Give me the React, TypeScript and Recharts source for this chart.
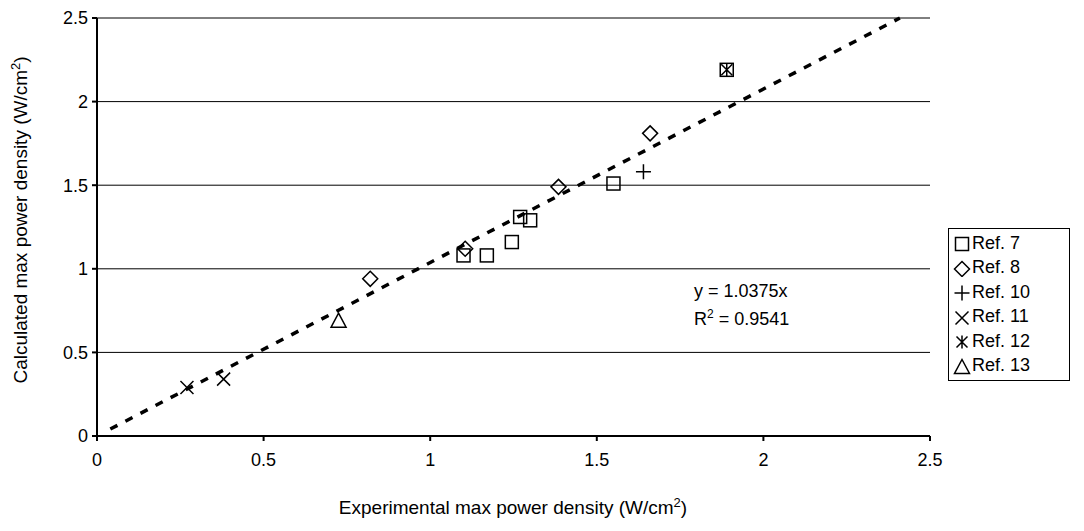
import React from "react";
import {
  ScatterChart,
  Scatter,
  XAxis,
  YAxis,
  CartesianGrid,
  ReferenceLine,
  Label,
} from "recharts";

// values
const ref7X = [1.1, 1.17, 1.245, 1.27, 1.3, 1.55, 1.89];
const ref7Y = [1.08, 1.08, 1.16, 1.31, 1.29, 1.51, 2.19];
const ref8X = [0.82, 1.105, 1.385, 1.66];
const ref8Y = [0.94, 1.12, 1.49, 1.81];
const ref10X = [1.64];
const ref10Y = [1.58];
const ref11X = [0.27, 0.38];
const ref11Y = [0.29, 0.34];
const ref12X = [1.89];
const ref12Y = [2.19];
const ref13X = [0.725];
const ref13Y = [0.69];

const axisTicks = [0, 0.5, 1, 1.5, 2, 2.5];
const slope = 1.0375;
const rSquared = 0.9541;
const trendStartX = 0.04;
const trendEndY = 2.5;

const FONT = "'Liberation Sans', Arial, sans-serif";

const toPoints = (xs: number[], ys: number[]) =>
  xs.map((x, i) => ({ x, y: ys[i] }));

type ShapeKind = "square" | "diamond" | "plus" | "cross" | "star" | "triangle";

function Marker({ kind, cx, cy }: { kind: ShapeKind; cx: number; cy: number }) {
  const s = 6.5;
  const common = { fill: "none", stroke: "#000", strokeWidth: 1.5 };
  switch (kind) {
    case "square":
      return <rect x={cx - s} y={cy - s} width={2 * s} height={2 * s} {...common} />;
    case "diamond":
      return (
        <polygon
          points={`${cx},${cy - s - 1} ${cx + s + 1},${cy} ${cx},${cy + s + 1} ${cx - s - 1},${cy}`}
          {...common}
        />
      );
    case "plus":
      return (
        <path d={`M${cx - s - 1},${cy}H${cx + s + 1}M${cx},${cy - s - 1}V${cy + s + 1}`} {...common} />
      );
    case "cross":
      return (
        <path
          d={`M${cx - s},${cy - s}L${cx + s},${cy + s}M${cx + s},${cy - s}L${cx - s},${cy + s}`}
          {...common}
        />
      );
    case "star":
      return (
        <path
          d={`M${cx - s + 1},${cy - s + 1}L${cx + s - 1},${cy + s - 1}M${cx + s - 1},${cy - s + 1}L${cx - s + 1},${cy + s - 1}M${cx},${cy - s}V${cy + s}`}
          {...common}
        />
      );
    case "triangle":
    default:
      return (
        <polygon
          points={`${cx},${cy - s - 1} ${cx + s + 1},${cy + s} ${cx - s - 1},${cy + s}`}
          {...common}
        />
      );
  }
}

const series: { name: string; kind: ShapeKind; data: { x: number; y: number }[] }[] = [
  { name: "Ref. 7", kind: "square", data: toPoints(ref7X, ref7Y) },
  { name: "Ref. 8", kind: "diamond", data: toPoints(ref8X, ref8Y) },
  { name: "Ref. 10", kind: "plus", data: toPoints(ref10X, ref10Y) },
  { name: "Ref. 11", kind: "cross", data: toPoints(ref11X, ref11Y) },
  { name: "Ref. 12", kind: "star", data: toPoints(ref12X, ref12Y) },
  { name: "Ref. 13", kind: "triangle", data: toPoints(ref13X, ref13Y) },
];

function LegendBox() {
  return (
    <div
      style={{
        position: "absolute",
        left: 948,
        top: 228,
        width: 122,
        border: "1px solid #000",
        background: "#fff",
        padding: "2px 4px",
        fontFamily: FONT,
        fontSize: 18,
        color: "#000",
        boxSizing: "border-box",
      }}
    >
      {series.map((s) => (
        <div key={s.name} style={{ display: "flex", alignItems: "center", height: 24.5 }}>
          <svg width={18} height={18} style={{ marginRight: 1 }}>
            <Marker kind={s.kind} cx={9} cy={10} />
          </svg>
          <span>{s.name}</span>
        </div>
      ))}
    </div>
  );
}

export default function App() {
  const tick = { fill: "#000", fontSize: 18, fontFamily: FONT };
  return (
    <div style={{ position: "absolute", left: 0, top: 0, width: 1084, height: 531, background: "#fff" }}>
      <ScatterChart
        width={1084}
        height={531}
        margin={{ top: 18, right: 154, bottom: 35, left: 37 }}
      >
        <CartesianGrid horizontal vertical={false} stroke="#000" strokeWidth={1} />
        <XAxis
          type="number"
          dataKey="x"
          domain={[0, 2.5]}
          ticks={axisTicks}
          tick={tick}
          tickSize={5}
          tickMargin={12}
          height={60}
          stroke="#000"
          strokeWidth={2}
          allowDataOverflow
        >
          <Label
            content={() => (
              <text x={513} y={514} textAnchor="middle" fontFamily={FONT} fontSize={19} fill="#000">
                Experimental max power density (W/cm
                <tspan dy={-7} fontSize={13}>2</tspan>
                <tspan dy={7}>)</tspan>
              </text>
            )}
          />
        </XAxis>
        <YAxis
          type="number"
          dataKey="y"
          domain={[0, 2.5]}
          ticks={axisTicks}
          tick={tick}
          tickSize={5}
          tickMargin={4}
          width={60}
          stroke="#000"
          strokeWidth={2}
          allowDataOverflow
        >
          <Label
            content={() => (
              <text
                x={27}
                y={220}
                transform="rotate(-90 27 220)"
                textAnchor="middle"
                fontFamily={FONT}
                fontSize={19}
                fill="#000"
              >
                Calculated max power density (W/cm
                <tspan dy={-7} fontSize={13}>2</tspan>
                <tspan dy={7}>)</tspan>
              </text>
            )}
          />
        </YAxis>
        <ReferenceLine
          segment={[
            { x: trendStartX, y: trendStartX * slope },
            { x: trendEndY / slope, y: trendEndY },
          ]}
          stroke="#000"
          strokeWidth={3.5}
          strokeDasharray="8 9"
          ifOverflow="visible"
        />
        {series.map((s) => (
          <Scatter
            key={s.name}
            name={s.name}
            data={s.data}
            isAnimationActive={false}
            shape={(p: any) => <Marker kind={s.kind} cx={p.cx} cy={p.cy} />}
          />
        ))}
      </ScatterChart>
      <LegendBox />
      <div
        style={{
          position: "absolute",
          left: 694,
          top: 277,
          fontFamily: FONT,
          fontSize: 18,
          lineHeight: "28px",
          color: "#000",
        }}
      >
        <div>y = {slope}x</div>
        <div>
          R<sup style={{ fontSize: 12, lineHeight: 0 }}>2</sup> = {rSquared}
        </div>
      </div>
    </div>
  );
}
